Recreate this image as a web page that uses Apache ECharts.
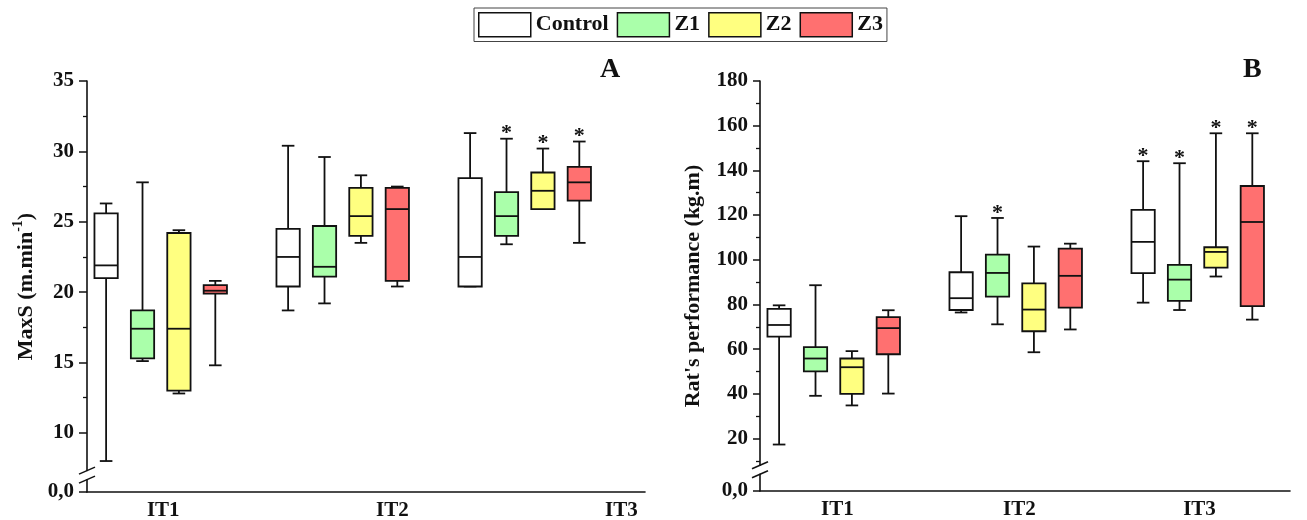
<!DOCTYPE html>
<html><head><meta charset="utf-8">
<script src="https://cdn.jsdelivr.net/npm/echarts@6/dist/echarts.min.js"></script>
<style>html,body{margin:0;padding:0;background:#fff}#c{width:1307px;height:520px}</style>
</head><body><div id="c"></div>
<script>
// ---------- data ----------
const groups = ['Control', 'Z1', 'Z2', 'Z3'];
const periods = ['IT1', 'IT2', 'IT3'];
// Panel A: MaxS (m.min-1), each box = [min, Q1, median, Q3, max] for IT1, IT2, IT3
const maxsControl = [[8.0, 21.0, 21.9, 25.6, 26.3], [18.7, 20.4, 22.5, 24.5, 30.4], [20.4, 20.4, 22.5, 28.1, 31.3]];
const maxsZ1      = [[15.1, 15.3, 17.4, 18.7, 27.8], [19.2, 21.1, 21.8, 24.7, 29.6], [23.4, 24.0, 25.4, 27.1, 30.9]];
const maxsZ2      = [[12.8, 13.0, 17.4, 24.2, 24.4], [23.5, 24.0, 25.4, 27.4, 28.3], [25.9, 25.9, 27.2, 28.5, 30.2]];
const maxsZ3      = [[14.8, 19.9, 20.1, 20.5, 20.8], [20.4, 20.8, 25.9, 27.4, 27.5], [23.5, 26.5, 27.8, 28.9, 30.7]];
const maxsSignif  = [[0, 0, 0], [0, 0, 1], [0, 0, 1], [0, 0, 1]];
// Panel B: Rat's performance (kg.m)
const perfControl = [[17.3, 65.6, 70.8, 78.0, 79.6], [76.4, 77.5, 82.8, 94.4, 119.5], [80.8, 94.0, 108.0, 122.3, 144.1]];
const perfZ1      = [[39.1, 50.0, 55.8, 60.9, 88.6], [71.1, 83.5, 94.1, 102.3, 118.7], [77.5, 81.6, 91.1, 97.7, 143.2]];
const perfZ2      = [[34.8, 40.0, 51.9, 55.8, 59.1], [58.6, 68.0, 77.7, 89.4, 105.9], [92.5, 96.5, 103.5, 105.6, 156.6]];
const perfZ3      = [[40.1, 57.7, 69.4, 74.3, 77.4], [68.8, 78.6, 92.8, 105.0, 107.2], [73.2, 79.2, 116.9, 133.0, 156.6]];
const perfSignif  = [[0, 0, 1], [0, 1, 1], [0, 0, 1], [0, 0, 1]];
// axis ticks
const maxsTicks = [10, 15, 20, 25, 30, 35];
const maxsMinorTicks = [12.5, 17.5, 22.5, 27.5, 32.5];
const perfTicks = [20, 40, 60, 80, 100, 120, 140, 160, 180];
const perfMinorTicks = [10, 30, 50, 70, 90, 110, 130, 150, 170];
const brokenBaseLabel = '0,0';

// ---------- styling / layout ----------
const FONT = '"Liberation Serif", "Times New Roman", serif';
const fills = ['#ffffff', '#aaffaa', '#ffff80', '#ff7070'];
const INK = '#111111';
const SLOT = 0.2;      // spacing of boxes inside a period (x-units)
const BOXW = 0.128;    // box width (x-units)
const A_MIN = 5.8, B_MIN = -3.5;
const X_MIN = 0.595;
const LW = 1.8;
const labelPosA = [1.014, 2.273, 3.531];   // where panel A's period labels sit
const labelPosB = [1.02, 2.02, 3.01];

const chart = echarts.init(document.getElementById('c'), null, {renderer: 'canvas'});

function makeRender(k) {
  return function (params, api) {
    const xc = api.value(0) + (k - 1.5) * SLOT;
    const pMin = api.coord([xc, api.value(1)]);
    const pQ1 = api.coord([xc, api.value(2)]);
    const pMed = api.coord([xc, api.value(3)]);
    const pQ3 = api.coord([xc, api.value(4)]);
    const pMax = api.coord([xc, api.value(5)]);
    const w = api.size([BOXW, 0])[0];
    const cap = w * 0.27;
    const cx = pMed[0];
    const ls = {stroke: INK, lineWidth: LW};
    const children = [
      {type: 'line', shape: {x1: cx, y1: pMax[1], x2: cx, y2: pQ3[1]}, style: ls},
      {type: 'line', shape: {x1: cx, y1: pQ1[1], x2: cx, y2: pMin[1]}, style: ls},
      {type: 'line', shape: {x1: cx - cap, y1: pMax[1], x2: cx + cap, y2: pMax[1]}, style: ls},
      {type: 'line', shape: {x1: cx - cap, y1: pMin[1], x2: cx + cap, y2: pMin[1]}, style: ls},
      {type: 'rect', shape: {x: cx - w / 2, y: pQ3[1], width: w, height: pQ1[1] - pQ3[1]},
        style: {fill: fills[k], stroke: INK, lineWidth: LW}},
      {type: 'line', shape: {x1: cx - w / 2, y1: pMed[1], x2: cx + w / 2, y2: pMed[1]}, style: ls}
    ];
    if (api.value(6)) {
      children.push({type: 'text', style: {text: '*', x: cx, y: pMax[1] + 6, align: 'center',
        verticalAlign: 'bottom', font: 'bold 22px ' + FONT, fill: INK}});
    }
    return {type: 'group', children: children};
  };
}

function buildData(boxes, sig) {
  return boxes.map((b, i) => [i + 1].concat(b).concat([sig[i]]));
}

const maxsSets = [maxsControl, maxsZ1, maxsZ2, maxsZ3];
const perfSets = [perfControl, perfZ1, perfZ2, perfZ3];

const series = [];
groups.forEach((g, k) => {
  series.push({
    name: g, type: 'custom', xAxisIndex: 0, yAxisIndex: 0,
    itemStyle: {color: fills[k]},
    renderItem: makeRender(k),
    encode: {x: 0, y: [1, 2, 3, 4, 5]},
    data: buildData(maxsSets[k], maxsSignif[k]),
    clip: false
  });
  series.push({
    name: g, type: 'custom', xAxisIndex: 1, yAxisIndex: 2,
    itemStyle: {color: fills[k]},
    renderItem: makeRender(k),
    encode: {x: 0, y: [1, 2, 3, 4, 5]},
    data: buildData(perfSets[k], perfSignif[k]),
    clip: false
  });
});

const lbl = {color: INK, fontFamily: FONT, fontWeight: 'bold', fontSize: 21};
const axLine = {show: true, onZero: false, lineStyle: {color: INK, width: 1.6}};

function yAxes(gridIndex, min, max, ticks, minor, margin, tlen, name, nameGap, rich) {
  const major = [min].concat(ticks);
  return [{
    type: 'value', gridIndex: gridIndex, min: min, max: max,
    axisLine: axLine, splitLine: {show: false},
    axisTick: {show: true, inside: false, length: tlen, customValues: major, lineStyle: {color: INK, width: 1.5}},
    axisLabel: Object.assign({}, lbl, {margin: margin, customValues: major,
      formatter: v => (Math.abs(v - min) < 1e-6 ? brokenBaseLabel : String(v))}),
    name: name, nameLocation: 'middle', nameRotate: 90, nameGap: nameGap,
    nameTextStyle: Object.assign({}, lbl, {fontSize: 22}, rich ? {rich: rich} : {})
  }, {
    type: 'value', gridIndex: gridIndex, min: min, max: max, position: 'left',
    axisLine: {show: false, onZero: false}, splitLine: {show: false}, axisLabel: {show: false},
    axisTick: {show: true, inside: false, length: 4, customValues: minor, lineStyle: {color: INK, width: 1.3}}
  }];
}

function xAxis(gridIndex, max, pos) {
  return {
    type: 'value', gridIndex: gridIndex, min: X_MIN, max: max,
    axisLine: axLine, splitLine: {show: false},
    axisTick: {show: false},
    axisLabel: Object.assign({}, lbl, {margin: 8, customValues: pos,
      formatter: v => periods[pos.findIndex(p => Math.abs(p - v) < 1e-6)]})
  };
}

const richA = {
  a: {fontFamily: FONT, fontWeight: 'bold', fontSize: 22, color: INK, lineHeight: 30},
  s: {fontFamily: FONT, fontWeight: 'bold', fontSize: 14, color: INK, verticalAlign: 'top', lineHeight: 14}
};

const option = {
  backgroundColor: '#ffffff',
  animation: false,
  legend: {
    top: 8, left: 474, icon: 'rect', itemWidth: 52, itemHeight: 24, itemGap: 8,
    padding: [4, 4, 4, 4], borderColor: '#444', borderWidth: 1,
    data: groups,
    itemStyle: {borderColor: INK, borderWidth: 1.5},
    textStyle: {color: INK, fontFamily: FONT, fontWeight: 'bold', fontSize: 22}
  },
  grid: [
    {left: 87, top: 81, width: 558, height: 411, containLabel: false, outerBoundsMode: 'none'},
    {left: 760, top: 81, width: 530, height: 410, containLabel: false, outerBoundsMode: 'none'}
  ],
  xAxis: [xAxis(0, X_MIN + 558 / 182, labelPosA), xAxis(1, X_MIN + 530 / 182, labelPosB)],
  yAxis: []
    .concat(yAxes(0, A_MIN, 35, maxsTicks, maxsMinorTicks, 13, 8, '{a|MaxS (m.min}{s|-1}{a|)}', 46, richA))
    .concat(yAxes(1, B_MIN, 180, perfTicks, perfMinorTicks, 12, 7, "Rat's performance (kg.m)", 56, null)),
  series: series,
  graphic: [
    {type: 'text', left: 600, top: 56, style: {text: 'A', font: 'bold 28px ' + FONT, fill: INK}},
    {type: 'text', left: 1243, top: 56, style: {text: 'B', font: 'bold 28px ' + FONT, fill: INK}}
  ]
};
chart.setOption(option);

// axis-break marks
function breakMark(yAxisIndex, value, xAxisIndex) {
  const y = chart.convertToPixel({yAxisIndex: yAxisIndex}, value);
  const x = chart.convertToPixel({xAxisIndex: xAxisIndex}, X_MIN);
  return [
    {type: 'rect', shape: {x: x - 2, y: y - 4, width: 4, height: 8}, style: {fill: '#fff'}, z: 100},
    {type: 'line', shape: {x1: x - 8, y1: y - 1, x2: x + 8, y2: y - 8}, style: {stroke: INK, lineWidth: 1.5}, z: 101},
    {type: 'line', shape: {x1: x - 8, y1: y + 8, x2: x + 8, y2: y + 1}, style: {stroke: INK, lineWidth: 1.5}, z: 101}
  ];
}
chart.setOption({graphic: option.graphic.concat(breakMark(0, 7.0, 0), breakMark(2, 6.0, 1))});
</script></body></html>
